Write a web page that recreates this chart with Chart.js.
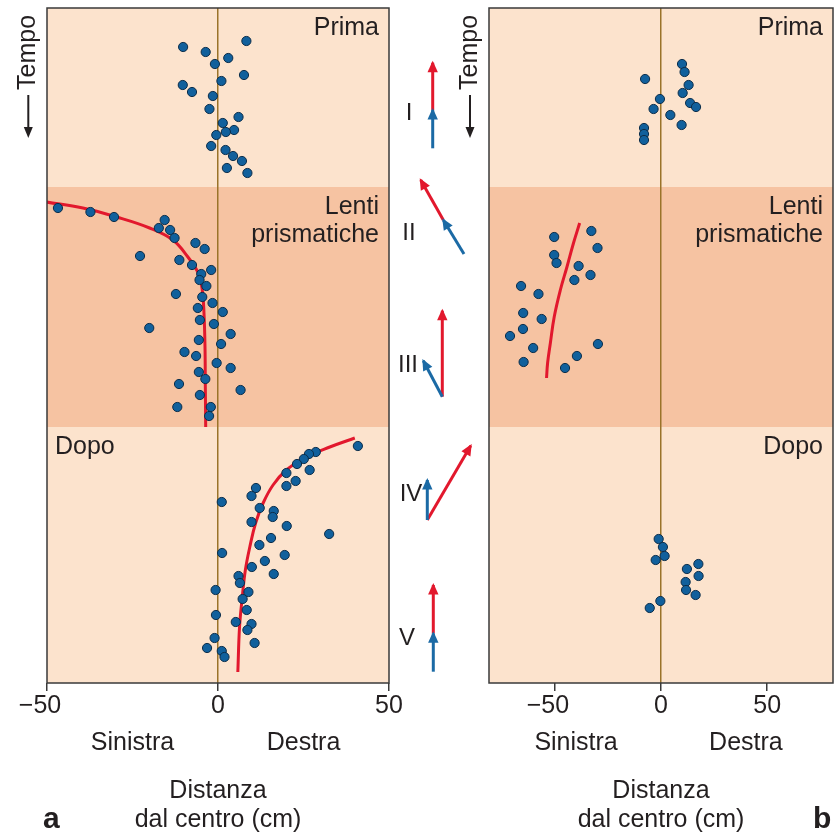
<!DOCTYPE html>
<html><head><meta charset="utf-8">
<script src="https://cdn.jsdelivr.net/npm/chart.js@4.4.1/dist/chart.umd.min.js"></script>
<style>
html,body{margin:0;padding:0;background:#fff;}
#wrap{position:relative;width:837px;height:832px;overflow:hidden;background:#fff;}
canvas{position:absolute;top:0;}
</style></head><body>
<div id="wrap">
<canvas id="cA" width="440" height="832" style="left:0px"></canvas>
<canvas id="cM" width="100" height="832" style="left:390px"></canvas>
<canvas id="cB" width="397" height="832" style="left:440px"></canvas>
</div>
<script>
// ---------- DATA ----------
// time axis (arbitrary units, top = start of session)
const phaseNames = [['Prima'], ['Lenti', 'prismatiche'], ['Dopo']];
const phaseStart = [0, 179, 419];
const phaseEnd = [179, 419, 675];

// Panel a: horizontal distance from centre (cm) vs time
const aPrimaX = [-10.2, 8.3, -3.6, 3.0, -0.9, 7.6, 1.0, -10.3, -7.6, -1.5, -2.5, 6.0, 1.4, 4.7, 2.3, -0.5, -2.0, 2.2, 4.4, 7.0, 2.6, 8.6];
const aPrimaT = [39, 33, 44, 50, 56, 67, 73, 77, 84, 88, 101, 109, 115, 122, 124, 127, 138, 142, 148, 153, 160, 165];
const aLentiX = [-46.8, -37.3, -30.4, -15.6, -17.3, -14.0, -12.7, -6.6, -3.9, -22.8, -11.3, -7.6, -2.0, -4.9, -5.4, -3.4, -12.3, -4.6, -1.6, -5.9, 1.4, -5.3, -1.2, -20.1, 3.7, -5.6, 0.9, -9.8, -6.4, -0.4, 3.7, -5.6, -3.7, -11.4, 6.6, -5.3, -11.9, -2.1, -2.6];
const aLentiT = [200, 204, 209, 212, 220, 222, 230, 235, 241, 248, 252, 257, 262, 266, 272, 278, 286, 289, 295, 300, 304, 312, 316, 320, 326, 332, 336, 344, 348, 355, 360, 364, 371, 376, 382, 387, 399, 399, 408];
const aDopoX = [40.9, 28.6, 26.6, 25.1, 23.1, 26.8, 20.0, 22.7, 20.0, 11.1, 9.8, 1.1, 12.2, 16.3, 16.0, 9.8, 20.1, 32.5, 15.5, 12.1, 1.2, 19.5, 13.7, 9.9, 16.3, 6.0, 6.4, 8.9, -0.7, 7.2, 8.4, -0.6, 5.2, 9.8, 8.6, -1.0, 10.7, -3.2, 1.1, 1.9];
const aDopoT = [438, 444, 446, 451, 456, 462, 465, 473, 478, 480, 488, 494, 500, 503, 509, 514, 518, 526, 530, 537, 545, 547, 553, 559, 566, 568, 575, 584, 582, 591, 602, 607, 614, 616, 622, 630, 635, 640, 643, 649];
const aFit1X = [-50.2, -39.5, -29.7, -20.0, -13.2, -8.8, -5.8, -4.6, -4.1, -3.8, -3.7, -3.6];
const aFit1T = [194, 200, 209, 220, 232, 249, 265, 282, 305, 339, 380, 419];
const aFit2X = [40.0, 32.7, 25.8, 20.0, 16.1, 13.2, 11.0, 9.3, 8.0, 7.1, 6.3, 5.8];
const aFit2T = [430, 439, 449, 462, 477, 495, 515, 539, 562, 589, 619, 664];

// Panel b
const bPrimaX = [9.9, 11.1, 13.0, -7.5, 10.2, -0.5, 13.7, 16.5, -3.5, 4.4, 9.7, -8.0, -8.0, -8.0];
const bPrimaT = [56, 64, 77, 71, 85, 91, 95, 99, 101, 107, 117, 120, 126, 132];
const bLentiX = [-32.8, -50.3, -29.9, -50.3, -49.2, -38.8, -33.2, -40.8, -65.9, -57.7, -64.9, -56.2, -65.0, -71.1, -29.7, -60.2, -39.6, -64.7, -45.2];
const bLentiT = [223, 229, 240, 247, 255, 258, 267, 272, 278, 286, 305, 311, 321, 328, 336, 340, 348, 354, 360];
const bFitX = [-38.3, -41.2, -44.3, -47.4, -50.3, -52.1, -53.4, -53.9];
const bFitT = [215, 235, 259, 282, 309, 335, 355, 370];
const bDopoX = [-1.1, 0.9, 1.7, -2.5, 17.6, 12.2, 17.7, 11.6, 11.8, 16.3, -0.3, -5.3];
const bDopoT = [531, 539, 548, 552, 556, 561, 568, 574, 582, 587, 593, 600];

// axis ticks and labels
const ticksA = [-50, 0, 50];
const ticksB = [-50, 0, 50];
const sideLabels = ['Sinistra', 'Destra'];
const axisTitle = ['Distanza', 'dal centro (cm)'];

// middle schematic: arrows (sketch units x 0-100, y 0-832)
const arrowLabels = ['I', 'II', 'III', 'IV', 'V'];
const arrowLabelX = [19, 19, 18, 21, 17];
const arrowLabelY = [113, 233, 365, 494, 638];
const redArrows = [[42.7, 110, 42.7, 62.7], [53.3, 220, 30.7, 180], [52.3, 396.7, 52.3, 310.7], [37.3, 520, 80.7, 445.7], [43.3, 633.3, 43.3, 585]];
const blueArrows = [[42.7, 148.3, 42.7, 110], [74, 254, 53.3, 220], [52.3, 396.7, 33.3, 360.7], [37.3, 520, 37.3, 480], [43.3, 671.7, 43.3, 633.3]];

// ---------- STYLE ----------
const FONT = '"Liberation Sans", Arial, Helvetica, sans-serif';
const TEXT = '#231f20';
const LIGHT = '#fce3cd', DARK = '#f6c3a2';
const phaseFill = [LIGHT, DARK, LIGHT];
const DOT = '#11609c', DOT_EDGE = '#0b2d4a', RED = '#e2182d', BLUE = '#1b6aa5', ZERO = '#9a7329', FRAME = '#3a3a3a';

const zip = (xs, ts) => xs.map((v, i) => ({x: v, y: ts[i]}));
const dotStyle = {showLine: false, pointRadius: 4.6, pointHoverRadius: 4.6, pointBackgroundColor: DOT, pointBorderColor: DOT_EDGE, pointBorderWidth: 1};
const curveStyle = {showLine: true, pointRadius: 0, pointHoverRadius: 0, borderColor: RED, borderWidth: 3, tension: 0.4, fill: false};

function panelPlugin(o) {
  return {
    id: 'panel' + o.tag,
    beforeDraw(chart) {
      const {ctx, chartArea: a, scales: {y}} = chart;
      ctx.save();
      for (let i = 0; i < phaseStart.length; i++) {
        const y0 = y.getPixelForValue(phaseStart[i]), y1 = y.getPixelForValue(phaseEnd[i]);
        ctx.fillStyle = phaseFill[i];
        ctx.fillRect(a.left, y0, a.right - a.left, y1 - y0);
      }
      ctx.restore();
    },
    afterDraw(chart) {
      const {ctx, chartArea: a, scales: {x, y}} = chart;
      ctx.save();
      // frame
      ctx.strokeStyle = FRAME; ctx.lineWidth = 1.5;
      ctx.strokeRect(a.left, a.top, a.right - a.left, a.bottom - a.top);
      // phase labels
      ctx.fillStyle = TEXT; ctx.font = '25px ' + FONT; ctx.textBaseline = 'alphabetic';
      for (let i = 0; i < phaseNames.length; i++) {
        const left = o.leftAlign[i];
        ctx.textAlign = left ? 'left' : 'right';
        const px = left ? a.left + 8 : a.right - 10;
        const y0 = y.getPixelForValue(phaseStart[i]);
        phaseNames[i].forEach((t, k) => ctx.fillText(t, px, y0 + 27 + k * 27.5));
      }
      // side labels
      ctx.textAlign = 'center';
      ctx.fillText(sideLabels[0], x.getPixelForValue(-o.side), 750);
      ctx.fillText(sideLabels[1], x.getPixelForValue(o.side), 750);
      // panel letter
      ctx.font = 'bold 30px ' + FONT; ctx.textAlign = 'left';
      ctx.fillText(o.letter, o.letterX, 828);
      // Tempo
      ctx.font = '25px ' + FONT;
      ctx.save();
      ctx.translate(o.tempoX, 90); ctx.rotate(-Math.PI / 2);
      ctx.textAlign = 'left'; ctx.fillText('Tempo', 0, 0);
      ctx.restore();
      const ax = o.tempoX - 6.7;
      ctx.strokeStyle = TEXT; ctx.lineWidth = 2;
      ctx.beginPath(); ctx.moveTo(ax, 95); ctx.lineTo(ax, 129); ctx.stroke();
      ctx.beginPath(); ctx.moveTo(ax - 4.5, 127); ctx.lineTo(ax + 4.5, 127); ctx.lineTo(ax, 138); ctx.closePath(); ctx.fill();
      ctx.restore();
    }
  };
}

function panelChart(id, o) {
  return new Chart(document.getElementById(id), {
    type: 'scatter',
    data: {datasets: o.datasets},
    options: {
      responsive: false, animation: false, events: [],
      layout: {autoPadding: false, padding: {left: o.padL, right: o.padR, top: 8, bottom: 0}},
      plugins: {legend: {display: false}, tooltip: {enabled: false}},
      scales: {
        x: {
          type: 'linear', min: o.min, max: o.max,
          afterBuildTicks: s => { s.ticks = o.ticks.map(v => ({value: v})); },
          afterFit: s => { s.height = 149; },
          ticks: {padding: 0, color: TEXT, font: {family: FONT, size: 25}, maxRotation: 0,
                  callback: v => v < 0 ? '\u2212' + Math.abs(v) + '\u2007' : String(v)},
          grid: {drawOnChartArea: true, color: c => (c.tick && c.tick.value === 0) ? ZERO : 'rgba(0,0,0,0)',
                 lineWidth: 1.5, tickLength: 8, tickColor: FRAME, tickWidth: 1.5},
          border: {display: false},
          title: {display: true, text: axisTitle, color: TEXT, font: {family: FONT, size: 25, lineHeight: 1.15}, padding: {top: 0, bottom: -2}}
        },
        y: {type: 'linear', display: false, min: 0, max: 675, reverse: true}
      }
    },
    plugins: [panelPlugin(o)]
  });
}

panelChart('cA', {
  tag: 'A', min: -50, max: 50, ticks: ticksA, padL: 47, padR: 51, side: 25, letter: 'a', letterX: 43, tempoX: 35,
  leftAlign: [false, false, true],
  datasets: [
    {label: 'Prima', data: zip(aPrimaX, aPrimaT), ...dotStyle},
    {label: 'Lenti prismatiche', data: zip(aLentiX, aLentiT), ...dotStyle},
    {label: 'Dopo', data: zip(aDopoX, aDopoT), ...dotStyle},
    {label: 'Andamento (lenti)', data: zip(aFit1X, aFit1T), ...curveStyle},
    {label: 'Andamento (dopo)', data: zip(aFit2X, aFit2T), ...curveStyle}
  ]
});

panelChart('cB', {
  tag: 'B', min: -81, max: 81, ticks: ticksB, padL: 49, padR: 4, side: 40, letter: 'b', letterX: 373, tempoX: 36.7,
  leftAlign: [false, false, false],
  datasets: [
    {label: 'Prima', data: zip(bPrimaX, bPrimaT), ...dotStyle},
    {label: 'Lenti prismatiche', data: zip(bLentiX, bLentiT), ...dotStyle},
    {label: 'Dopo', data: zip(bDopoX, bDopoT), ...dotStyle},
    {label: 'Andamento (lenti)', data: zip(bFitX, bFitT), ...curveStyle}
  ]
});

// middle schematic
const arrowSets = [];
blueArrows.forEach((a, i) => arrowSets.push({label: 'blu ' + arrowLabels[i], data: [{x: a[0], y: a[1]}, {x: a[2], y: a[3]}], showLine: true, pointRadius: 0, borderColor: BLUE, borderWidth: 3, borderCapStyle: 'butt'}));
redArrows.forEach((a, i) => arrowSets.push({label: 'rosso ' + arrowLabels[i], data: [{x: a[0], y: a[1]}, {x: a[2], y: a[3]}], showLine: true, pointRadius: 0, borderColor: RED, borderWidth: 3, borderCapStyle: 'butt'}));

new Chart(document.getElementById('cM'), {
  type: 'scatter',
  data: {datasets: arrowSets},
  options: {
    responsive: false, animation: false, events: [],
    layout: {autoPadding: false, padding: 0},
    plugins: {legend: {display: false}, tooltip: {enabled: false}},
    scales: {
      x: {type: 'linear', display: false, min: 0, max: 100},
      y: {type: 'linear', display: false, min: 0, max: 832, reverse: true}
    }
  },
  plugins: [{
    id: 'heads',
    afterDatasetsDraw(chart) {
      const {ctx, scales: {x, y}} = chart;
      ctx.save();
      // red heads first, blue on top
      const metas = chart.getSortedVisibleDatasetMetas().slice().reverse();
      metas.forEach(m => {
        const ds = chart.data.datasets[m.index];
        const p0 = m.data[0], p1 = m.data[1];
        const dx = p1.x - p0.x, dy = p1.y - p0.y, L = Math.hypot(dx, dy);
        const ux = dx / L, uy = dy / L, nx = -uy, ny = ux;
        const tx = p1.x + ux * 2, ty = p1.y + uy * 2;
        const bx = p1.x - ux * 9.5, by = p1.y - uy * 9.5;
        ctx.fillStyle = ds.borderColor;
        ctx.beginPath();
        ctx.moveTo(tx, ty);
        ctx.lineTo(bx + nx * 5.2, by + ny * 5.2);
        ctx.lineTo(bx - nx * 5.2, by - ny * 5.2);
        ctx.closePath(); ctx.fill();
      });
      ctx.fillStyle = TEXT; ctx.font = '24px ' + FONT; ctx.textAlign = 'center'; ctx.textBaseline = 'middle';
      arrowLabels.forEach((t, i) => ctx.fillText(t, x.getPixelForValue(arrowLabelX[i]), y.getPixelForValue(arrowLabelY[i])));
      ctx.restore();
    }
  }]
});
</script>
</body></html>
